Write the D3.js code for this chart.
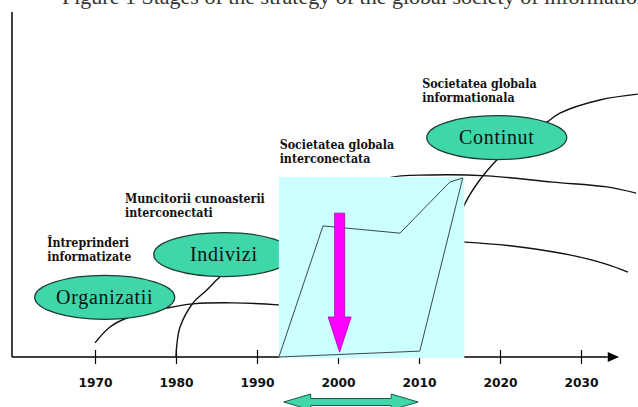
<!DOCTYPE html>
<html><head><meta charset="utf-8">
<script src="https://cdn.jsdelivr.net/npm/d3@7"></script>
<style>html,body{margin:0;padding:0;background:#fff;overflow:hidden}</style>
</head><body>
<svg id="c" width="638" height="407"></svg>
<script>
// ---- data ----
const tickYears = [1970, 1980, 1990, 2000, 2010, 2020, 2030];
const titleText = "Figure 1 Stages of the strategy of the global society of information";

const stageNames  = ["Organizatii", "Indivizi", "Continut"];
const stageYears  = [1971.2, 1985.9, 2019.6];
const stageLevels = [17.3, 29.7, 63.6];

const captionLines = [
  ["Întreprinderi", "informatizate"],
  ["Muncitorii cunoasterii", "interconectati"],
  ["Societatea globala", "interconectata"],
  ["Societatea globala", "informationala"]
];
const captionYears  = [1964.1, 1973.7, 1992.8, 2010.4];
const captionLevels = [32.0, 44.6, 60.3, 78.0];

// growth curves: [year, level]
const curveOrganizatii = [[1970,4.1],[1971.85,8.7],[1973.95,11.3],[1978.9,14.2],[1982.1,15.4],[1987.0,15.7],[1992.6,15.1],[1995.3,14.5]];
const curveIndivizi = [[1980,0],[1980.1,3.5],[1980.5,8.7],[1982.1,15.65],[1983.8,19.4],[1985.4,23.2],[1987.9,27.5],[1991.6,31.6],[1997.8,33.6],[2007.7,33.9],[2015.7,33.3],[2022.5,31.9],[2028.6,29.6],[2033.0,27.0],[2035.8,24.6]];
const curveInterconectata = [[1994.5,0],[1995.1,10],[1996.4,25],[1998.5,38],[2001.8,47],[2006.2,51.9],[2011.4,52.75],[2018.4,52.5],[2026.5,50.7],[2033.2,49.3],[2036.8,47.5]];
const curveContinut = [[2010.1,0],[2010.7,7.8],[2012.6,22.3],[2014.4,36.8],[2015.7,44.6],[2017.5,51.3],[2019.6,57.1],[2022.5,63.5],[2025.8,68.1],[2027.4,70.7],[2032.3,74.5],[2037.0,76.2]];
const curves = [curveOrganizatii, curveIndivizi, curveInterconectata, curveContinut];

// highlighted period (cyan box) and transition polygon
const boxYears = [1992.7, 2015.6];
const boxLevels = [-0.3, 52.2];
const transitionPolygon = [[1992.7,0],[1998.15,38.0],[2007.65,35.9],[2013.8,50.7],[2015.4,51.9],[2010.1,1.7]];
const downArrowYear = 2000.2;
const downArrowLevels = [41.7, 11.6, 1.4];   // shaft top, head base, tip
const periodYears = [1993.3, 2009.9];

const axisYears = [1959.75, 2033.3, 2034.7]; // axis start, line end, arrow tip
const axisTopLevel = 100;

// ---- scales ----
const x = d3.scaleLinear().domain([1970, 2030]).range([95, 581]);
const y = d3.scaleLinear().domain([0, 100]).range([357, 12]);

const svg = d3.select("#c");

// title (clipped at top, as in the source page)
svg.append("text").attr("x", 62).attr("y", 4)
  .attr("font-family", "Liberation Serif, serif").attr("font-size", 22)
  .attr("fill", "#333").text(titleText);

// axes
const ax = svg.append("g").attr("transform", `translate(0,${y(0)})`)
  .call(d3.axisBottom(x).tickValues(tickYears).tickFormat(d3.format("d")).tickSizeInner(7).tickSizeOuter(0));
ax.select(".domain").remove();
ax.selectAll(".tick line").attr("y1", -7).attr("y2", 7).attr("stroke", "#000").attr("stroke-width", 1.2);
ax.selectAll(".tick text").attr("y", 30).attr("dy", 0)
  .attr("font-family", "DejaVu Sans, sans-serif").attr("font-weight", "bold").attr("font-size", 12.3).attr("fill", "#111");

svg.append("line").attr("x1", x(axisYears[0])).attr("x2", x(axisYears[1]))
  .attr("y1", y(0)).attr("y2", y(0)).attr("stroke", "#000").attr("stroke-width", 1.5);
svg.append("path")
  .attr("d", `M${x(axisYears[1])},${y(0)-5} L${x(axisYears[2])},${y(0)} L${x(axisYears[1])},${y(0)+5}Z`)
  .attr("fill", "#000");
svg.append("line").attr("x1", x(axisYears[0])).attr("x2", x(axisYears[0]))
  .attr("y1", y(0)).attr("y2", y(axisTopLevel)).attr("stroke", "#000").attr("stroke-width", 1.5);

// curves
const line = d3.line().x(d => x(d[0])).y(d => y(d[1])).curve(d3.curveCatmullRom.alpha(0.5));
svg.append("g").selectAll("path").data(curves).join("path")
  .attr("d", line).attr("fill", "none").attr("stroke", "#111").attr("stroke-width", 1.4);

// ellipses
const eg = svg.append("g").selectAll("g").data(stageNames).join("g")
  .attr("transform", (d, i) => `translate(${x(stageYears[i])},${y(stageLevels[i])})`);
eg.append("ellipse").attr("rx", 70).attr("ry", 22)
  .attr("fill", "#3fd6aa").attr("stroke", "#1d3b33").attr("stroke-width", 1.3);
eg.append("text").attr("text-anchor", "middle").attr("dy", "0.33em")
  .attr("font-family", "Liberation Serif, serif").attr("font-size", 20).attr("letter-spacing", 0.7)
  .attr("fill", "#111")
  .text(d => d);

// captions
svg.append("g").selectAll("text").data(captionLines).join("text")
  .attr("x", (d, i) => x(captionYears[i])).attr("y", (d, i) => y(captionLevels[i]))
  .attr("font-family", "DejaVu Serif Condensed, DejaVu Serif, serif").attr("font-weight", "bold")
  .attr("font-size", 12.3).attr("fill", "#111")
  .selectAll("tspan").data(d => d).join("tspan")
  .attr("x", function () { return this.parentNode.getAttribute("x"); })
  .attr("dy", (d, i) => i ? 14 : 0).text(d => d);

// cyan box
svg.append("rect").attr("x", x(boxYears[0])).attr("width", x(boxYears[1]) - x(boxYears[0]))
  .attr("y", y(boxLevels[1])).attr("height", y(boxLevels[0]) - y(boxLevels[1]))
  .attr("fill", "#ccffff");
svg.append("polygon").attr("points", transitionPolygon.map(d => [x(d[0]), y(d[1])].join(",")).join(" "))
  .attr("fill", "none").attr("stroke", "#3a4a4a").attr("stroke-width", 1);

// magenta arrow
{
  const cx = x(downArrowYear), t = y(downArrowLevels[0]), hb = y(downArrowLevels[1]), tip = y(downArrowLevels[2]);
  svg.append("path")
    .attr("d", `M${cx-5},${t} L${cx+5},${t} L${cx+5},${hb} L${cx+11.5},${hb} L${cx},${tip} L${cx-11.5},${hb} L${cx-5},${hb}Z`)
    .attr("fill", "#ff00ff").attr("stroke", "#b000b0").attr("stroke-width", 0.8);
}

// period double arrow
{
  const a = x(periodYears[0]), b = x(periodYears[1]), cy = 402, hl = 27;
  svg.append("path")
    .attr("d", `M${a},${cy} L${a+hl},${cy-8} L${a+hl},${cy-3.5} L${b-hl},${cy-3.5} L${b-hl},${cy-8} L${b},${cy} L${b-hl},${cy+8} L${b-hl},${cy+3.5} L${a+hl},${cy+3.5} L${a+hl},${cy+8}Z`)
    .attr("fill", "#3fd6aa").attr("stroke", "#1d5a48").attr("stroke-width", 1);
}
</script>
</body></html>
